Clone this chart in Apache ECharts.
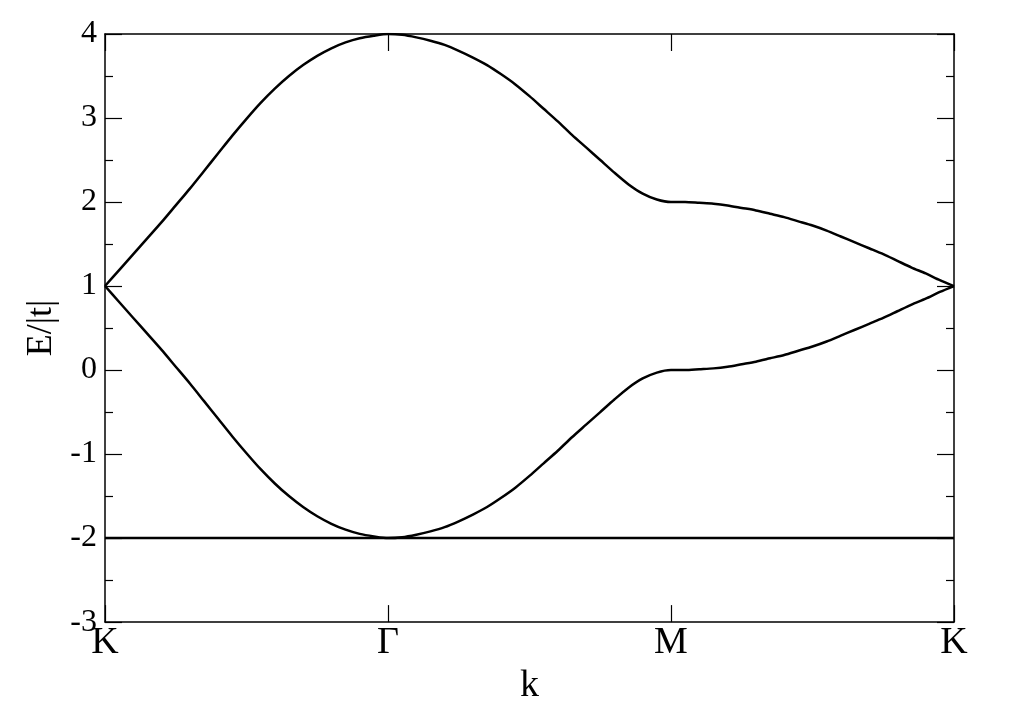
<!DOCTYPE html>
<html>
<head>
<meta charset="utf-8">
<script src="https://cdn.jsdelivr.net/npm/echarts@6/dist/echarts.min.js"></script>
<style>
  html, body { margin: 0; padding: 0; background: #fff; }
  #chart { width: 1017px; height: 710px; }
</style>
</head>
<body>
<div id="chart"></div>
<script>
// k path positions: K (0) -> Gamma (1) -> M (2) -> K (3)
const kPath = [
  0.00, 0.05, 0.10, 0.15, 0.20, 0.25, 0.30, 0.35, 0.40, 0.45,
  0.50, 0.55, 0.60, 0.65, 0.70, 0.75, 0.80, 0.85, 0.90, 0.95,
  1.00, 1.05, 1.10, 1.15, 1.20, 1.25, 1.30, 1.35, 1.40, 1.45,
  1.50, 1.55, 1.60, 1.65, 1.70, 1.75, 1.80, 1.85, 1.90, 1.95,
  2.00, 2.05, 2.10, 2.15, 2.20, 2.25, 2.30, 2.35, 2.40, 2.45,
  2.50, 2.55, 2.60, 2.65, 2.70, 2.75, 2.80, 2.85, 2.90, 2.95, 3.00
]
const kLabels = ['K', 'Γ', 'M', 'K']

// bands, E/|t|
const upperBand = [
  1.00, 1.19, 1.38, 1.57, 1.76, 1.96, 2.16, 2.37, 2.58, 2.79,
  2.99, 3.18, 3.35, 3.50, 3.63, 3.74, 3.83, 3.90, 3.95, 3.98,
  4.00, 3.99, 3.96, 3.92, 3.87, 3.80, 3.72, 3.63, 3.52, 3.40,
  3.26, 3.11, 2.96, 2.80, 2.65, 2.50, 2.35, 2.21, 2.10, 2.03,
  2.00, 2.00, 1.99, 1.98, 1.96, 1.93, 1.90, 1.86, 1.82, 1.77,
  1.72, 1.66, 1.59, 1.52, 1.45, 1.38, 1.30, 1.22, 1.15, 1.07, 1.00
]
const lowerBand = [
  1.00, 0.81, 0.62, 0.43, 0.24, 0.04, -0.16, -0.37, -0.58, -0.79,
  -0.99, -1.18, -1.35, -1.50, -1.63, -1.74, -1.83, -1.90, -1.95, -1.98,
  -2.00, -1.99, -1.96, -1.92, -1.87, -1.80, -1.72, -1.63, -1.52, -1.40,
  -1.26, -1.11, -0.96, -0.80, -0.65, -0.50, -0.35, -0.21, -0.10, -0.03,
  0.00, 0.00, 0.01, 0.02, 0.04, 0.07, 0.10, 0.14, 0.18, 0.23,
  0.28, 0.34, 0.41, 0.48, 0.55, 0.62, 0.70, 0.78, 0.85, 0.93, 1.00
]
const flatBand = [
  -2, -2, -2, -2, -2, -2, -2, -2, -2, -2,
  -2, -2, -2, -2, -2, -2, -2, -2, -2, -2,
  -2, -2, -2, -2, -2, -2, -2, -2, -2, -2,
  -2, -2, -2, -2, -2, -2, -2, -2, -2, -2,
  -2, -2, -2, -2, -2, -2, -2, -2, -2, -2,
  -2, -2, -2, -2, -2, -2, -2, -2, -2, -2, -2
]

const font = 'Liberation Serif'
const frame = { onZero: false, lineStyle: { color: '#000', width: 1.5 } }
const tick = { inside: true, length: 17, lineStyle: { color: '#000', width: 1.2 } }
const minor = { show: true, splitNumber: 2, length: 8, lineStyle: { color: '#000', width: 1.2 } }

function pairs(ys) {
  return kPath.map((k, i) => [k, ys[i]])
}

function bandSeries(name, ys) {
  return {
    name: name,
    type: 'line',
    data: pairs(ys),
    showSymbol: false,
    smooth: 0.25,
    lineStyle: { color: '#000', width: 2.5, join: 'round' },
    animation: false
  }
}

const chart = echarts.init(document.getElementById('chart'))
chart.setOption({
  backgroundColor: '#fff',
  grid: { left: 105, right: 63, top: 34, bottom: 81 },
  xAxis: [
    {
      type: 'value',
      min: 0,
      max: 3,
      interval: 1,
      position: 'bottom',
      name: 'k',
      nameLocation: 'middle',
      nameGap: 41,
      nameTextStyle: { fontFamily: font, fontSize: 38, color: '#000' },
      axisLine: frame,
      axisTick: tick,
      axisLabel: {
        margin: 2,
        fontFamily: font,
        fontSize: 38,
        color: '#000',
        formatter: v => kLabels[Math.round(v)]
      },
      splitLine: { show: false }
    },
    {
      type: 'value',
      min: 0,
      max: 3,
      interval: 1,
      position: 'top',
      axisLine: frame,
      axisTick: tick,
      axisLabel: { show: false },
      splitLine: { show: false }
    }
  ],
  yAxis: [
    {
      type: 'value',
      min: -3,
      max: 4,
      interval: 1,
      position: 'left',
      name: 'E/|t|',
      nameLocation: 'middle',
      nameGap: 38,
      nameRotate: 90,
      nameTextStyle: { fontFamily: font, fontSize: 36, color: '#000' },
      axisLine: frame,
      axisTick: tick,
      minorTick: minor,
      axisLabel: { margin: 8, fontFamily: font, fontSize: 32, color: '#000', padding: [4, 0, 0, 0] },
      splitLine: { show: false }
    },
    {
      type: 'value',
      min: -3,
      max: 4,
      interval: 1,
      position: 'right',
      axisLine: frame,
      axisTick: tick,
      minorTick: minor,
      axisLabel: { show: false },
      splitLine: { show: false }
    }
  ],
  series: [
    bandSeries('upper', upperBand),
    bandSeries('lower', lowerBand),
    bandSeries('flat', flatBand)
  ]
})
</script>
</body>
</html>
